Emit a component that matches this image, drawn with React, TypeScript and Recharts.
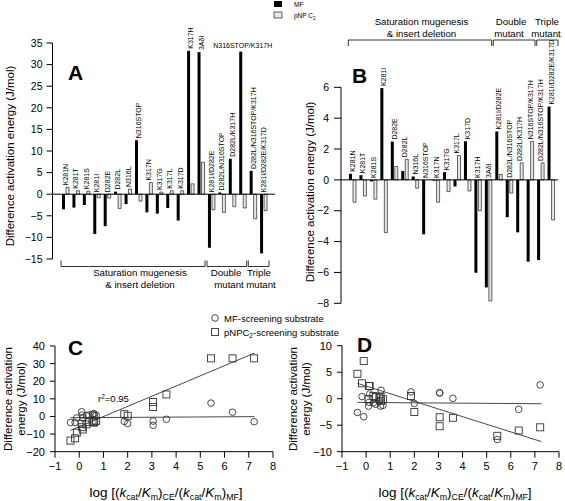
import React from 'react';
import { BarChart, Bar, XAxis, YAxis, ReferenceLine, ScatterChart, Scatter } from 'recharts';

const FONT = '"Liberation Sans", Arial, Helvetica, sans-serif';

const mutants = [
  'K281N', 'K281T', 'K281S', 'K281I', 'D282E', 'D282L', 'N316L', 'N316STOP', 'K317N', 'K317G',
  'K317L', 'K317D', 'K317H', '3AδI', 'K281I/D282E', 'D282L/N316STOP', 'D282L/K317H',
  'N316STOP/K317H', 'D282L/N316STOP/K317H', 'K281I/D282E/K317D',
];
const aMF = [-3.5, -3.1, -2.5, -9.2, -7.4, 0.6, -2.3, 12.5, -4.2, -4.5, -3.2, -6.1, 33.2, 32.9, -12.4, 0.4, 8.2, 33.0, 5.4, -13.7];
const aPNP = [1.6, 0.8, 0.7, -0.8, -0.9, -3.3, 1.2, -1.6, 2.7, 0.5, 0.8, 0.8, 2.4, 7.4, -3.6, -4.2, -2.9, -3.2, -5.7, -3.8];
const bMF = [0.39, 0.3, -0.1, 5.95, 2.48, 0.58, 0.22, -3.53, -0.05, 0.5, -0.43, 2.5, -6.02, -6.97, 3.14, -2.42, -3.4, -5.3, -5.2, 4.75];
const bPNP = [-1.45, -1.05, -1.25, -3.42, 0.87, 1.34, -0.54, 0, -1.45, -0.76, 1.58, -0.72, -2.0, -7.85, 0.35, -0.86, 1.1, 2.5, 1.1, -2.6];

const logRatio = [0.6, 0.4, 0.7, -0.1, 0.15, 1.86, 0.55, 3.6, 0.1, 0.3, 0.62, 0.12, 6.33, 5.44, -0.17, 2.0, 3.05, 7.22, 3.05, -0.36];
const cSquareY = [-3.5, -3.1, -2.5, -9.2, -7.4, 1.3, -2.3, 12.5, -4.2, -4.5, -3.2, -6.1, 33.0, 33.0, -12.4, 0.4, 8.2, 33.0, 5.4, -13.7];
const cCircleY = [1.6, 0.8, 0.7, -0.8, -0.9, -2.8, 1.2, -1.6, 2.7, 0.5, 0.8, 0.8, 2.4, 7.6, -3.4, -4.0, -2.6, -3.0, -5.0, -3.4];
const dSquareY = [0.4, 0.3, -0.1, 7.1, 2.4, 0.5, 0.2, -3.6, -0.05, 0.5, -0.4, 2.4, -6.0, -7.0, 2.9, -2.5, -3.5, -5.4, -5.2, 4.7];
const dCircleY = [-1.4, -1.05, -1.25, -3.4, 0.9, 1.3, -0.5, 0.06, -1.4, -0.8, 1.6, -0.7, -2.0, -7.7, 0.4, -0.9, 1.1, 2.6, 1.1, -2.6];

const aTicks = [-15, -10, -5, 0, 5, 10, 15, 20, 25, 30, 35];
const bTicks = [-8, -6, -4, -2, 0, 2, 4, 6];
const cTicksY = [-20, -10, 0, 10, 20, 30, 40];
const dTicksY = [-10, -5, 0, 5, 10];
const xTicksCD = [-1, 0, 1, 2, 3, 4, 5, 6, 7, 8];

const cFitSquare = [{ x: -0.36, y: -7.9 }, { x: 7.24, y: 36 }];
const cFitCircle = [{ x: -0.36, y: -0.7 }, { x: 7.24, y: -0.1 }];
const dFitSquare = [{ x: -0.36, y: 2.9 }, { x: 7.27, y: -8.1 }];
const dFitCircle = [{ x: -0.36, y: -0.7 }, { x: 7.27, y: -0.95 }];

const aData = mutants.map((name, i) => ({ name, mf: aMF[i], pnp: aPNP[i], top: Math.max(0, aMF[i], aPNP[i]) }));
const bData = mutants.map((name, i) => ({ name, mf: bMF[i], pnp: bPNP[i], top: Math.max(0, bMF[i], bPNP[i]) }));
const cSquares = logRatio.map((x, i) => ({ x, y: cSquareY[i] }));
const cCircles = logRatio.map((x, i) => ({ x, y: cCircleY[i] }));
const dSquares = logRatio.map((x, i) => ({ x, y: dSquareY[i] }));
const dCircles = logRatio.map((x, i) => ({ x, y: dCircleY[i] }));

const minus = (v: number) => String(v).replace('-', '\u2212');
const tickStyle = (fs: number) => ({ fontSize: fs, fill: '#000', fontFamily: FONT });

const makeLabel = (horiz: number[]) => (p: any) => {
  const { x, y, width, height, payload, index } = p;
  const cx = x + width / 2;
  const top = Math.min(y, y + height);
  if (horiz.includes(index)) {
    return <text x={cx} y={top - 4} fontSize={7} textAnchor="middle" fontFamily={FONT} fill="#000">{payload.name}</text>;
  }
  const ty = top - 2;
  return (
    <text x={cx} y={ty} transform={`rotate(-90 ${cx} ${ty})`} fontSize={7} dominantBaseline="central" fontFamily={FONT} fill="#000">
      {payload.name}
    </text>
  );
};

const circleShape = (p: any) => <circle cx={p.cx} cy={p.cy} r={3.3} fill="none" stroke="#333" strokeWidth={0.9} />;
const squareShape = (p: any) => <rect x={p.cx - 3.5} y={p.cy - 3.5} width={7} height={7} fill="none" stroke="#333" strokeWidth={0.9} />;

const GREY = '#e6e6e6';

const BarPanel = ({ data, ticks, domain, yWidth, width, height, margin, padding, horiz, tickSize, tickMargin }: any) => (
  <BarChart width={width} height={height} data={data} margin={margin} barGap={1}>
    <XAxis dataKey="name" hide padding={padding} />
    <XAxis dataKey="name" xAxisId="lab" hide padding={padding} />
    <YAxis
      domain={domain}
      ticks={ticks}
      interval={0}
      width={yWidth}
      axisLine={{ stroke: '#000' }}
      tickLine={{ stroke: '#000' }}
      tickSize={tickSize}
      tickMargin={tickMargin}
      tick={tickStyle(10.5)}
      tickFormatter={minus}
    />
    <ReferenceLine y={0} stroke="#000" strokeWidth={1} />
    <Bar dataKey="mf" fill="#000" barSize={3} isAnimationActive={false} />
    <Bar dataKey="pnp" fill={GREY} stroke="#000" strokeWidth={0.6} barSize={3} isAnimationActive={false} />
    <Bar dataKey="top" xAxisId="lab" fill="none" barSize={1} isAnimationActive={false} shape={makeLabel(horiz)} />
  </BarChart>
);

const ScatterPanel = ({ squares, circles, fitS, fitC, yDomain, yTicks, yWidth, width, height, margin }: any) => (
  <ScatterChart width={width} height={height} margin={margin}>
    <XAxis
      type="number"
      dataKey="x"
      domain={[-1, 8]}
      ticks={xTicksCD}
      interval={0}
      height={30}
      axisLine={{ stroke: '#000' }}
      tickLine={{ stroke: '#000' }}
      tickSize={6}
      tickMargin={4}
      tick={tickStyle(11)}
      tickFormatter={minus}
    />
    <YAxis
      type="number"
      dataKey="y"
      domain={yDomain}
      ticks={yTicks}
      interval={0}
      width={yWidth}
      axisLine={{ stroke: '#000' }}
      tickLine={{ stroke: '#000' }}
      tickSize={5}
      tickMargin={5}
      tick={tickStyle(11)}
      tickFormatter={minus}
    />
    <ReferenceLine segment={fitS} stroke="#333" strokeWidth={0.9} />
    <ReferenceLine segment={fitC} stroke="#333" strokeWidth={0.9} />
    <Scatter data={circles} shape={circleShape} isAnimationActive={false} />
    <Scatter data={squares} shape={squareShape} isAnimationActive={false} />
  </ScatterChart>
);

const Bracket = ({ x1, x2, y, dir }: { x1: number; x2: number; y: number; dir: number }) => (
  <path d={`M${x1},${y + dir * 6} L${x1},${y} L${x2},${y} L${x2},${y + dir * 6}`} fill="none" stroke="#000" strokeWidth={0.8} />
);

const XTitle = ({ x, y }: { x: number; y: number }) => (
  <text x={x} y={y} textAnchor="middle" fontSize={13.5} fontFamily={FONT} fill="#000">
    log [(<tspan fontStyle="italic">k</tspan>
    <tspan fontSize={8.8} dy={3}>cat</tspan>
    <tspan dy={-3}>/</tspan>
    <tspan fontStyle="italic">K</tspan>
    <tspan fontSize={8.8} dy={3}>m</tspan>
    <tspan dy={-3}>)</tspan>
    <tspan fontSize={8.8} dy={3}>CE</tspan>
    <tspan dy={-3}>/(</tspan>
    <tspan fontStyle="italic">k</tspan>
    <tspan fontSize={8.8} dy={3}>cat</tspan>
    <tspan dy={-3}>/</tspan>
    <tspan fontStyle="italic">K</tspan>
    <tspan fontSize={8.8} dy={3}>m</tspan>
    <tspan dy={-3}>)</tspan>
    <tspan fontSize={8.8} dy={3}>MF</tspan>
    <tspan dy={-3}>]</tspan>
  </text>
);

const RotText = ({ x, y, size, children }: any) => (
  <text x={x} y={y} transform={`rotate(-90 ${x} ${y})`} textAnchor="middle" fontSize={size} fontFamily={FONT} fill="#000">
    {children}
  </text>
);

const Overlay = () => (
  <svg width={565} height={501} style={{ position: 'absolute', left: 0, top: 0, pointerEvents: 'none' }}>
    {/* top legend */}
    <rect x={274} y={1} width={8} height={6} fill="#000" />
    <rect x={274} y={12} width={8} height={6} fill={GREY} stroke="#000" strokeWidth={0.6} />
    <text x={294} y={7} fontSize={6.5} fontFamily={FONT}>MF</text>
    <text x={294} y={18} fontSize={6.5} fontFamily={FONT}>pNP C<tspan fontSize={4.5} dy={1.5}>2</tspan></text>

    {/* panel letters */}
    <text x={68} y={80} fontSize={21} fontWeight="bold" fontFamily={FONT}>A</text>
    <text x={352} y={83} fontSize={21} fontWeight="bold" fontFamily={FONT}>B</text>
    <text x={68} y={355} fontSize={21} fontWeight="bold" fontFamily={FONT}>C</text>
    <text x={357} y={352} fontSize={21} fontWeight="bold" fontFamily={FONT}>D</text>

    {/* y titles */}
    <RotText x={13.5} y={156} size={11.5}>Difference activation energy (J/mol)</RotText>
    <RotText x={313.5} y={192} size={11.5}>Difference activation energy (J/mol)</RotText>
    <RotText x={11.5} y={399} size={11.5}>Difference activation</RotText>
    <RotText x={24.5} y={399} size={11.5}>energy (J/mol)</RotText>
    <RotText x={297} y={399} size={11.5}>Difference activation</RotText>
    <RotText x={310} y={399} size={11.5}>energy (J/mol)</RotText>

    {/* A brackets */}
    <Bracket x1={61} x2={205} y={266.5} dir={-1} />
    <Bracket x1={207} x2={246.7} y={266.5} dir={-1} />
    <Bracket x1={248.3} x2={269} y={266.5} dir={-1} />
    <g fontSize={9.7} fontFamily={FONT} textAnchor="middle">
      <text x={140} y={275.5}>Saturation mugenesis</text>
      <text x={140} y={287.5}>&amp; insert deletion</text>
      <text x={226} y={275.5}>Double</text>
      <text x={229} y={287.5}>mutant</text>
      <text x={259} y={275.5}>Triple</text>
      <text x={261} y={287.5}>mutant</text>
    </g>

    {/* B brackets */}
    <Bracket x1={348.3} x2={491.7} y={40} dir={1} />
    <Bracket x1={493.3} x2={535} y={40} dir={1} />
    <Bracket x1={536.7} x2={558} y={40} dir={1} />
    <g fontSize={9.7} fontFamily={FONT} textAnchor="middle">
      <text x={421.5} y={25}>Saturation mugenesis</text>
      <text x={421.5} y={36.5}>&amp; insert deletion</text>
      <text x={511} y={25}>Double</text>
      <text x={509} y={36.5}>mutant</text>
      <text x={547} y={25}>Triple</text>
      <text x={546} y={36.5}>mutant</text>
    </g>

    {/* C legend */}
    <circle cx={215} cy={318} r={3.3} fill="none" stroke="#333" strokeWidth={0.9} />
    <rect x={211.5} y={328.5} width={7} height={7} fill="none" stroke="#333" strokeWidth={0.9} />
    <g fontSize={9.5} fontFamily={FONT}>
      <text x={224} y={321.5}>MF-screening substrate</text>
      <text x={224} y={335.5}>pNPC<tspan fontSize={6.5} dy={2}>2</tspan><tspan dy={-2}>-screening substrate</tspan></text>
      <text x={98} y={402}>r<tspan fontSize={6.5} dy={-3.5}>2</tspan><tspan dy={3.5}>=0.95</tspan></text>
    </g>

    <XTitle x={166} y={497} />
    <XTitle x={455} y={497} />
  </svg>
);

export default function App() {
  return (
    <div style={{ position: 'absolute', left: 0, top: 0, width: 565, height: 501, background: '#fff', fontFamily: FONT }}>
      <div style={{ position: 'absolute', left: 0, top: 0 }}>
        <BarPanel
          data={aData}
          ticks={aTicks}
          domain={[-15, 35]}
          yWidth={52.5}
          width={280}
          height={300}
          margin={{ top: 43, right: 5, bottom: 41, left: 0 }}
          padding={{ left: 7.5, right: 6.5 }}
          horiz={[17]}
          tickSize={6}
          tickMargin={4}
        />
      </div>
      <div style={{ position: 'absolute', left: 290, top: 0 }}>
        <BarPanel
          data={bData}
          ticks={bTicks}
          domain={[-8, 6]}
          yWidth={51}
          width={275}
          height={320}
          margin={{ top: 87.3, right: 7, bottom: 16.7, left: 0 }}
          padding={{ left: 6, right: 2 }}
          horiz={[]}
          tickSize={7}
          tickMargin={5}
        />
      </div>
      <div style={{ position: 'absolute', left: 0, top: 300 }}>
        <ScatterPanel
          squares={cSquares}
          circles={cCircles}
          fitS={cFitSquare}
          fitC={cFitCircle}
          yDomain={[-20, 40]}
          yTicks={cTicksY}
          yWidth={55}
          width={285}
          height={201}
          margin={{ top: 46, right: 12, bottom: 19.3, left: 0 }}
        />
      </div>
      <div style={{ position: 'absolute', left: 286, top: 300 }}>
        <ScatterPanel
          squares={dSquares}
          circles={dCircles}
          fitS={dFitSquare}
          fitC={dFitCircle}
          yDomain={[-10, 10]}
          yTicks={dTicksY}
          yWidth={56}
          width={279}
          height={201}
          margin={{ top: 45.7, right: 6, bottom: 19.3, left: 0 }}
        />
      </div>
      <Overlay />
    </div>
  );
}
